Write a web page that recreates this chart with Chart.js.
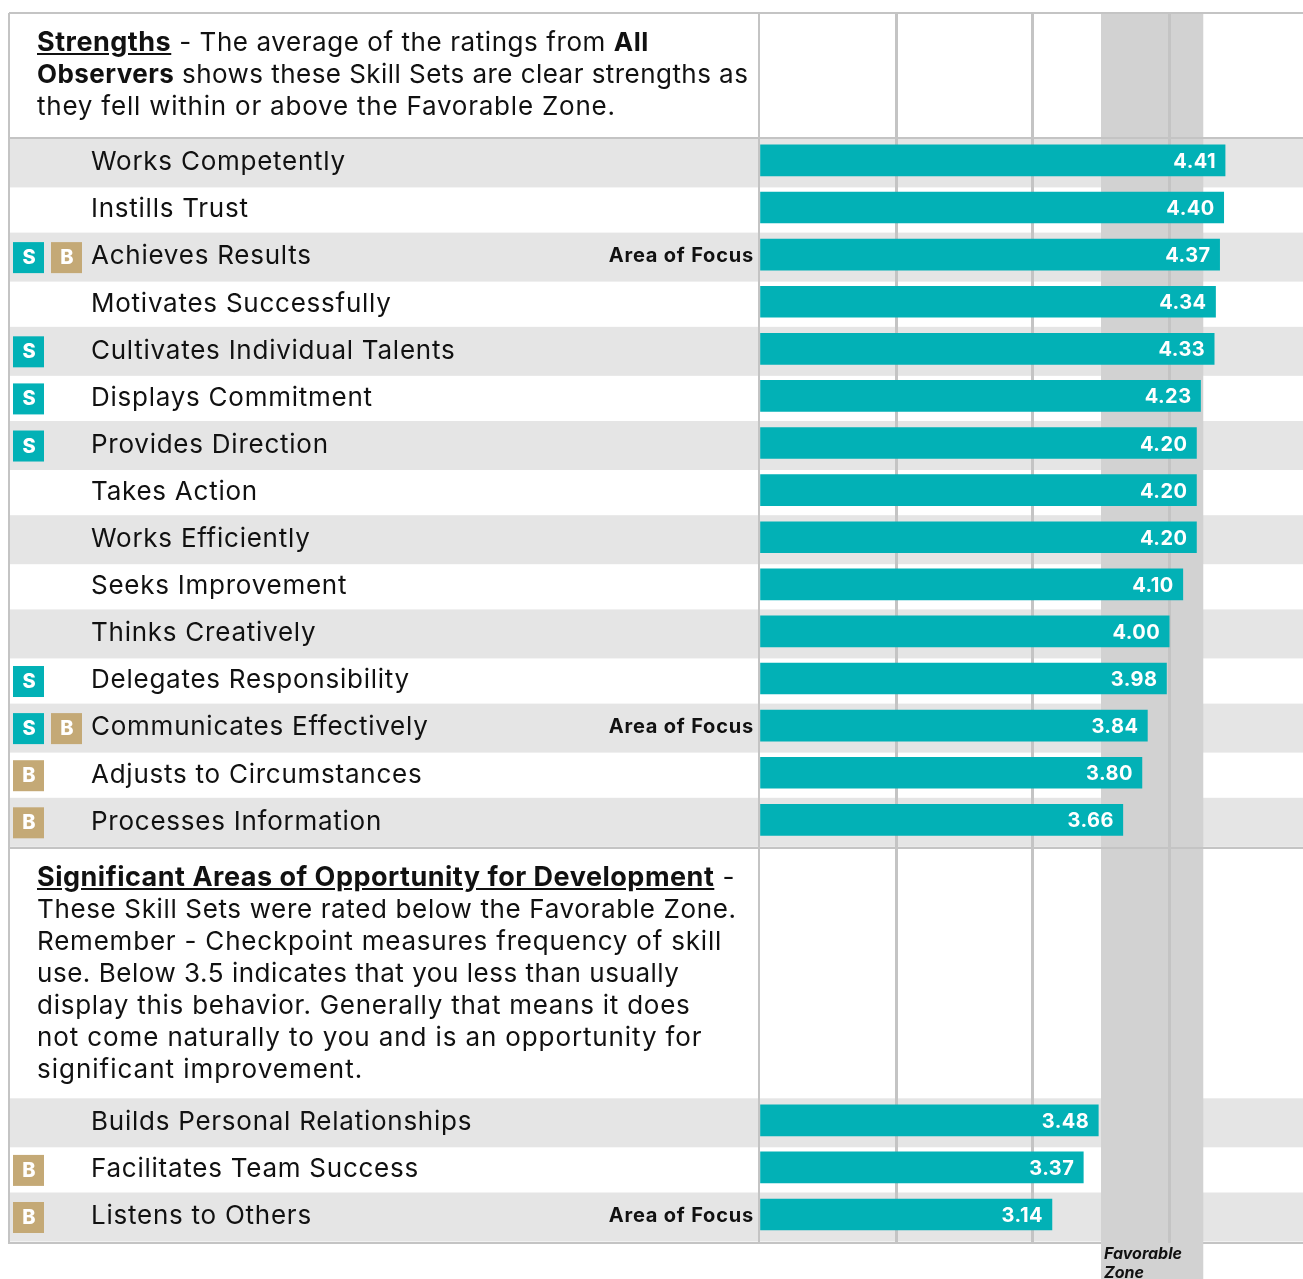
<!DOCTYPE html>
<html>
<head>
<meta charset="utf-8">
<title>Strengths and opportunities</title>
<script src="https://cdn.jsdelivr.net/npm/chart.js@4"></script>
<style>
    html, body { margin: 0; padding: 0; background: #fff; overflow: hidden; }
    #page { position: relative; width: 1303px; height: 1279px; overflow: hidden; font-family: Inter, sans-serif; color: #111; }
    #page canvas { position: absolute; left: 0; top: 0; }
    .blurb { position: absolute; left: 37px; font-size: 26px; line-height: 32px; white-space: nowrap; }
    .blurb b { font-weight: 700; }
    .blurb u { font-size: 27px; letter-spacing: .5px; }
    .zone { position: absolute; left: 1104px; top: 1244px; font-size: 16px; line-height: 19px; font-weight: 700; font-style: italic; }
</style>
</head>
<body>
<div id="page">
    <canvas id="skillChart" width="1306" height="1279"></canvas>
    <div class="blurb" style="top:26px">
        <div style="letter-spacing:.57px"><b><u>Strengths</u></b> - The average of the ratings from <b>All</b></div>
        <div style="letter-spacing:.45px"><b>Observers</b> shows these Skill Sets are clear strengths as</div>
        <div style="letter-spacing:.78px">they fell within or above the Favorable Zone.</div>
    </div>
    <div class="blurb" style="top:861px">
        <div style="letter-spacing:.89px"><b><u>Significant Areas of Opportunity for Development</u></b> -</div>
        <div style="letter-spacing:.64px">These Skill Sets were rated below the Favorable Zone.</div>
        <div style="letter-spacing:.79px">Remember - Checkpoint measures frequency of skill</div>
        <div style="letter-spacing:.53px">use. Below 3.5 indicates that you less than usually</div>
        <div style="letter-spacing:.74px">display this behavior. Generally that means it does</div>
        <div style="letter-spacing:.88px">not come naturally to you and is an opportunity for</div>
        <div style="letter-spacing:.99px">significant improvement.</div>
    </div>
    <div class="zone">Favorable<br>Zone</div>
</div>
<script>
const skills = ['Works Competently', 'Instills Trust', 'Achieves Results', 'Motivates Successfully',
    'Cultivates Individual Talents', 'Displays Commitment', 'Provides Direction', 'Takes Action',
    'Works Efficiently', 'Seeks Improvement', 'Thinks Creatively', 'Delegates Responsibility',
    'Communicates Effectively', 'Adjusts to Circumstances', 'Processes Information',
    'Builds Personal Relationships', 'Facilitates Team Success', 'Listens to Others'];
const scores = [4.41, 4.40, 4.37, 4.34, 4.33, 4.23, 4.20, 4.20, 4.20, 4.10, 4.00, 3.98, 3.84, 3.80, 3.66, 3.48, 3.37, 3.14];
const badges = ['', '', 'SB', '', 'S', 'S', 'S', '', '', '', '', 'S', 'SB', 'B', 'B', '', 'B', 'B'];
const focusSkills = ['Achieves Results', 'Communicates Effectively', 'Listens to Others'];
const xTicks = [2, 3, 4];
const favorableZone = [3.5, 4.25];

const TEAL = '#02b1b6';
const GOLD = '#c4a976';
const LINE = '#c4c4c4';
const STRIPE = '#e5e5e5';
const BAND = '#d2d2d2';
const FONT = 'Inter, sans-serif';

// y axis runs in row units, text blocks just push the rows down
const HEADER_ROWS = 3.13;
const MIDDLE_ROWS = 5.38;
const FIRST_BLOCK = 15;
const rowPos = skills.map((s, i) => HEADER_ROWS + i + (i >= FIRST_BLOCK ? MIDDLE_ROWS : 0));

const hLine = (ctx, y, x0, x1) => {
    ctx.fillStyle = LINE;
    ctx.fillRect(x0, y - 1, x1 - x0, 2);
};

const backdrop = {
    id: 'backdrop',
    beforeDraw(chart) {
        const { ctx, scales: { x, y } } = chart;
        ctx.letterSpacing = '0.75px';

        // row stripes
        ctx.fillStyle = STRIPE;
        rowPos.forEach((pos, i) => {
            const striped = i < FIRST_BLOCK ? i % 2 === 0 : i % 2 === 1;
            if (!striped) return;
            const py = y.getPixelForValue(pos);
            ctx.fillRect(10, py - 22, 1293, 49);
        });

        hLine(ctx, 1243, 9, 1303);

        // favorable zone runs past the plot to the page bottom
        const zoneLeft = x.getPixelForValue(favorableZone[0]);
        const zoneRight = x.getPixelForValue(favorableZone[1]);
        ctx.fillStyle = BAND;
        ctx.fillRect(zoneLeft, 13, zoneRight - zoneLeft, 1266);

        hLine(ctx, 13, 9, 1303);
        hLine(ctx, 138, 9, 1303);
        hLine(ctx, 848, 9, 1303);
        ctx.fillStyle = LINE;
        ctx.fillRect(8, 13, 2, 1231);
        ctx.fillRect(758, 13, 2, 1231);
    },
    afterDatasetsDraw(chart) {
        const { ctx, scales: { x, y } } = chart;
        ctx.save();
        ctx.textBaseline = 'middle';

        scores.forEach((score, i) => {
            const py = y.getPixelForValue(rowPos[i]);

            ctx.letterSpacing = '0.45px';
            ctx.fillStyle = '#fff';
            ctx.textAlign = 'right';
            ctx.font = `700 20px ${FONT}`;
            ctx.fillText(score.toFixed(2), x.getPixelForValue(score) - 9, py + 1.5);

            if (focusSkills.includes(skills[i])) {
                ctx.letterSpacing = '0.8px';
                ctx.fillStyle = '#111';
                ctx.fillText('Area of Focus', 754, py + 1);
            }

            // S / B badges
            ctx.letterSpacing = '0px';
            [...badges[i]].forEach((letter, n) => {
                const left = 13 + n * 38;
                ctx.fillStyle = letter === 'S' ? TEAL : GOLD;
                ctx.fillRect(left, py - 12.5, 31, 31);
                ctx.fillStyle = '#fff';
                ctx.textAlign = 'center';
                ctx.font = `800 20px ${FONT}`;
                ctx.fillText(letter, left + 16, py + 3.5);
            });
        });
        ctx.restore();
    }
};

new Chart(document.getElementById('skillChart'), {
    type: 'bar',
    plugins: [backdrop],
    data: {
        datasets: [{
            data: scores.map((score, i) => ({ x: score, y: rowPos[i] })),
            backgroundColor: TEAL,
            barThickness: 31
        }]
    },
    options: {
        indexAxis: 'y',
        responsive: false,
        animation: false,
        events: [],
        layout: { padding: { left: 91, right: 0.5, top: 13, bottom: 36 } },
        plugins: { legend: { display: false }, tooltip: { enabled: false } },
        scales: {
            x: {
                type: 'linear',
                min: 1,
                max: 5,
                afterBuildTicks: (scale) => { scale.ticks = [1, ...xTicks].map(value => ({ value })); },
                border: { display: false },
                grid: {
                    color: (c) => (c.tick && c.tick.value === 1 ? 'transparent' : LINE),
                    lineWidth: 3,
                    drawTicks: false
                },
                ticks: { display: false }
            },
            y: {
                type: 'linear',
                reverse: true,
                min: 0,
                max: 26.115,
                offset: false,
                afterBuildTicks: (scale) => { scale.ticks = rowPos.map(value => ({ value })); },
                afterFit: (scale) => {
                    scale.width = 669.2;
                    scale.paddingTop = 0;
                    scale.paddingBottom = 0;
                },
                border: { display: false },
                grid: { display: false, offset: false },
                ticks: {
                    autoSkip: false,
                    crossAlign: 'far',
                    labelOffset: 2,
                    color: '#111',
                    font: { family: FONT, size: 26, weight: 400 },
                    callback: (value, index) => skills[index]
                }
            }
        }
    }
});
</script>
</body>
</html>
